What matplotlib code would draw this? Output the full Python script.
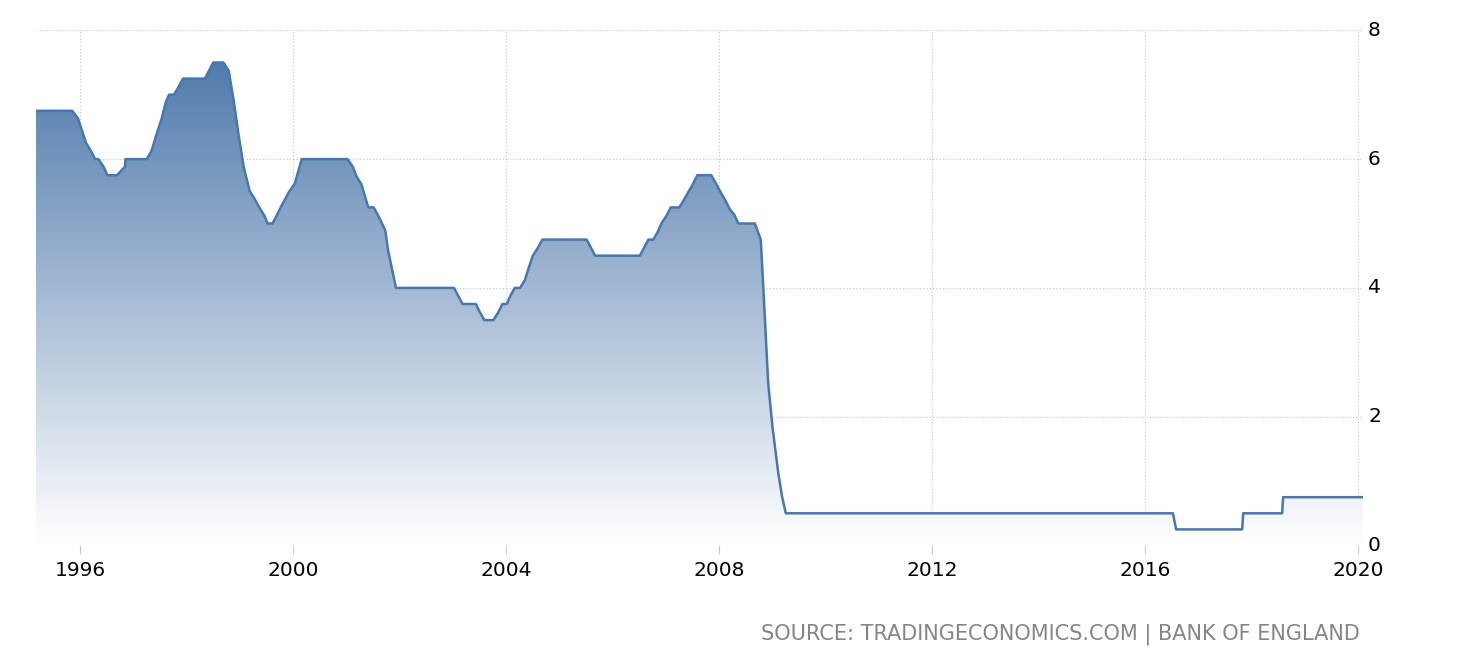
import numpy as np
import matplotlib
matplotlib.use("Agg")
import matplotlib.pyplot as plt
from matplotlib.patches import Polygon
from matplotlib.colors import LinearSegmentedColormap

dates = [1995.17, 1995.85, 1995.96, 1996.11, 1996.20, 1996.28, 1996.34, 1996.44, 1996.51,
         1996.69, 1996.84, 1996.85, 1997.25, 1997.34, 1997.44, 1997.53, 1997.61, 1997.67,
         1997.76, 1997.84, 1997.93, 1998.34, 1998.50, 1998.69, 1998.79, 1998.88, 1998.97,
         1999.07, 1999.18, 1999.29, 1999.37, 1999.46, 1999.52, 1999.61, 1999.69, 1999.77,
         1999.85, 1999.92, 2000.03, 2000.16, 2001.02, 2001.12, 2001.19, 2001.28, 2001.41,
         2001.51, 2001.61, 2001.73, 2001.78, 2001.93, 2003.02, 2003.18, 2003.43, 2003.50,
         2003.59, 2003.76, 2003.85, 2003.93, 2004.01, 2004.08, 2004.16, 2004.26, 2004.35,
         2004.43, 2004.50, 2004.60, 2004.68, 2005.51, 2005.67, 2006.51, 2006.67, 2006.76,
         2006.84, 2006.92, 2007.01, 2007.09, 2007.25, 2007.34, 2007.42, 2007.50, 2007.59,
         2007.85, 2007.94, 2008.03, 2008.12, 2008.20, 2008.28, 2008.36, 2008.67, 2008.78,
         2008.83, 2008.92, 2009.00, 2009.11, 2009.18, 2009.25, 2016.52, 2016.58, 2017.82,
         2017.84, 2018.57, 2018.59, 2020.08]
rates = [6.75, 6.75, 6.63, 6.25, 6.13, 6.00, 6.00, 5.88, 5.75,
         5.75, 5.88, 6.00, 6.00, 6.13, 6.40, 6.63, 6.89, 7.00,
         7.00, 7.11, 7.25, 7.25, 7.50, 7.50, 7.37, 6.92, 6.40,
         5.88, 5.51, 5.36, 5.24, 5.12, 5.00, 5.00, 5.12, 5.26,
         5.38, 5.49, 5.62, 6.00, 6.00, 5.88, 5.73, 5.61, 5.25,
         5.25, 5.10, 4.89, 4.59, 4.00, 4.00, 3.75, 3.75, 3.63,
         3.50, 3.50, 3.62, 3.75, 3.75, 3.88, 4.00, 4.00, 4.12,
         4.33, 4.50, 4.63, 4.75, 4.75, 4.50, 4.50, 4.75, 4.75,
         4.86, 5.01, 5.12, 5.25, 5.25, 5.37, 5.49, 5.60, 5.75,
         5.75, 5.62, 5.48, 5.35, 5.22, 5.14, 5.00, 5.00, 4.75,
         3.97, 2.52, 1.84, 1.12, 0.76, 0.50, 0.50, 0.25, 0.25,
         0.50, 0.50, 0.75, 0.75]

x_ticks = [1996, 2000, 2004, 2008, 2012, 2016, 2020]
x_labels = ["1996", "2000", "2004", "2008", "2012", "2016", "2020"]
y_ticks = [0, 2, 4, 6, 8]
y_labels = ["0", "2", "4", "6", "8"]
source = "SOURCE: TRADINGECONOMICS.COM | BANK OF ENGLAND"

W, H = 1464, 672
fig = plt.figure(figsize=(W / 100, H / 100), dpi=100)
ax = fig.add_axes([36 / W, (H - 545.5) / H, (1362.5 - 36) / W, (545.5 - 30.3) / H])

xmin, xmax = 1995.17, 2020.08
ymin, ymax = 0, 8
ax.set_xlim(xmin, xmax)
ax.set_ylim(ymin, ymax)

line_color = "#4a77ab"
cmap = LinearSegmentedColormap.from_list("g", ["#ffffff", "#4572a7"])
grad = np.linspace(0, 1, 256).reshape(-1, 1)
img = ax.imshow(grad, extent=[xmin, xmax, ymin, ymax], origin="lower",
                aspect="auto", cmap=cmap, zorder=2, interpolation="bilinear")
poly_pts = np.column_stack([[dates[0]] + dates + [dates[-1]],
                            [0] + rates + [0]])
poly = Polygon(poly_pts, closed=True, facecolor="none", edgecolor="none")
ax.add_patch(poly)
img.set_clip_path(poly)

ax.plot(dates, rates, color=line_color, lw=1.8, zorder=3, solid_joinstyle="round")

for s in ax.spines.values():
    s.set_visible(False)

ax.set_xticks(x_ticks)
ax.set_xticklabels(x_labels)
ax.set_yticks(y_ticks)
ax.set_yticklabels(y_labels)
ax.yaxis.tick_right()
ax.tick_params(axis="x", length=6, width=0.8, color="#c8c8c8", pad=5,
               labelsize=14.5, labelcolor="#000000")
ax.tick_params(axis="y", length=0, pad=4, labelsize=14.5, labelcolor="#000000")
for lab in ax.get_yticklabels():
    lab.set_verticalalignment("center")

ax.grid(True, color="#c0c0c0", linestyle=(0, (1, 2)), linewidth=0.8, zorder=1)
ax.set_axisbelow(True)

fig.text(1360 / W, (H - 634) / H, source, ha="right", va="center",
         color="#858585", fontsize=15)

fig.savefig("out.png", dpi=100)
